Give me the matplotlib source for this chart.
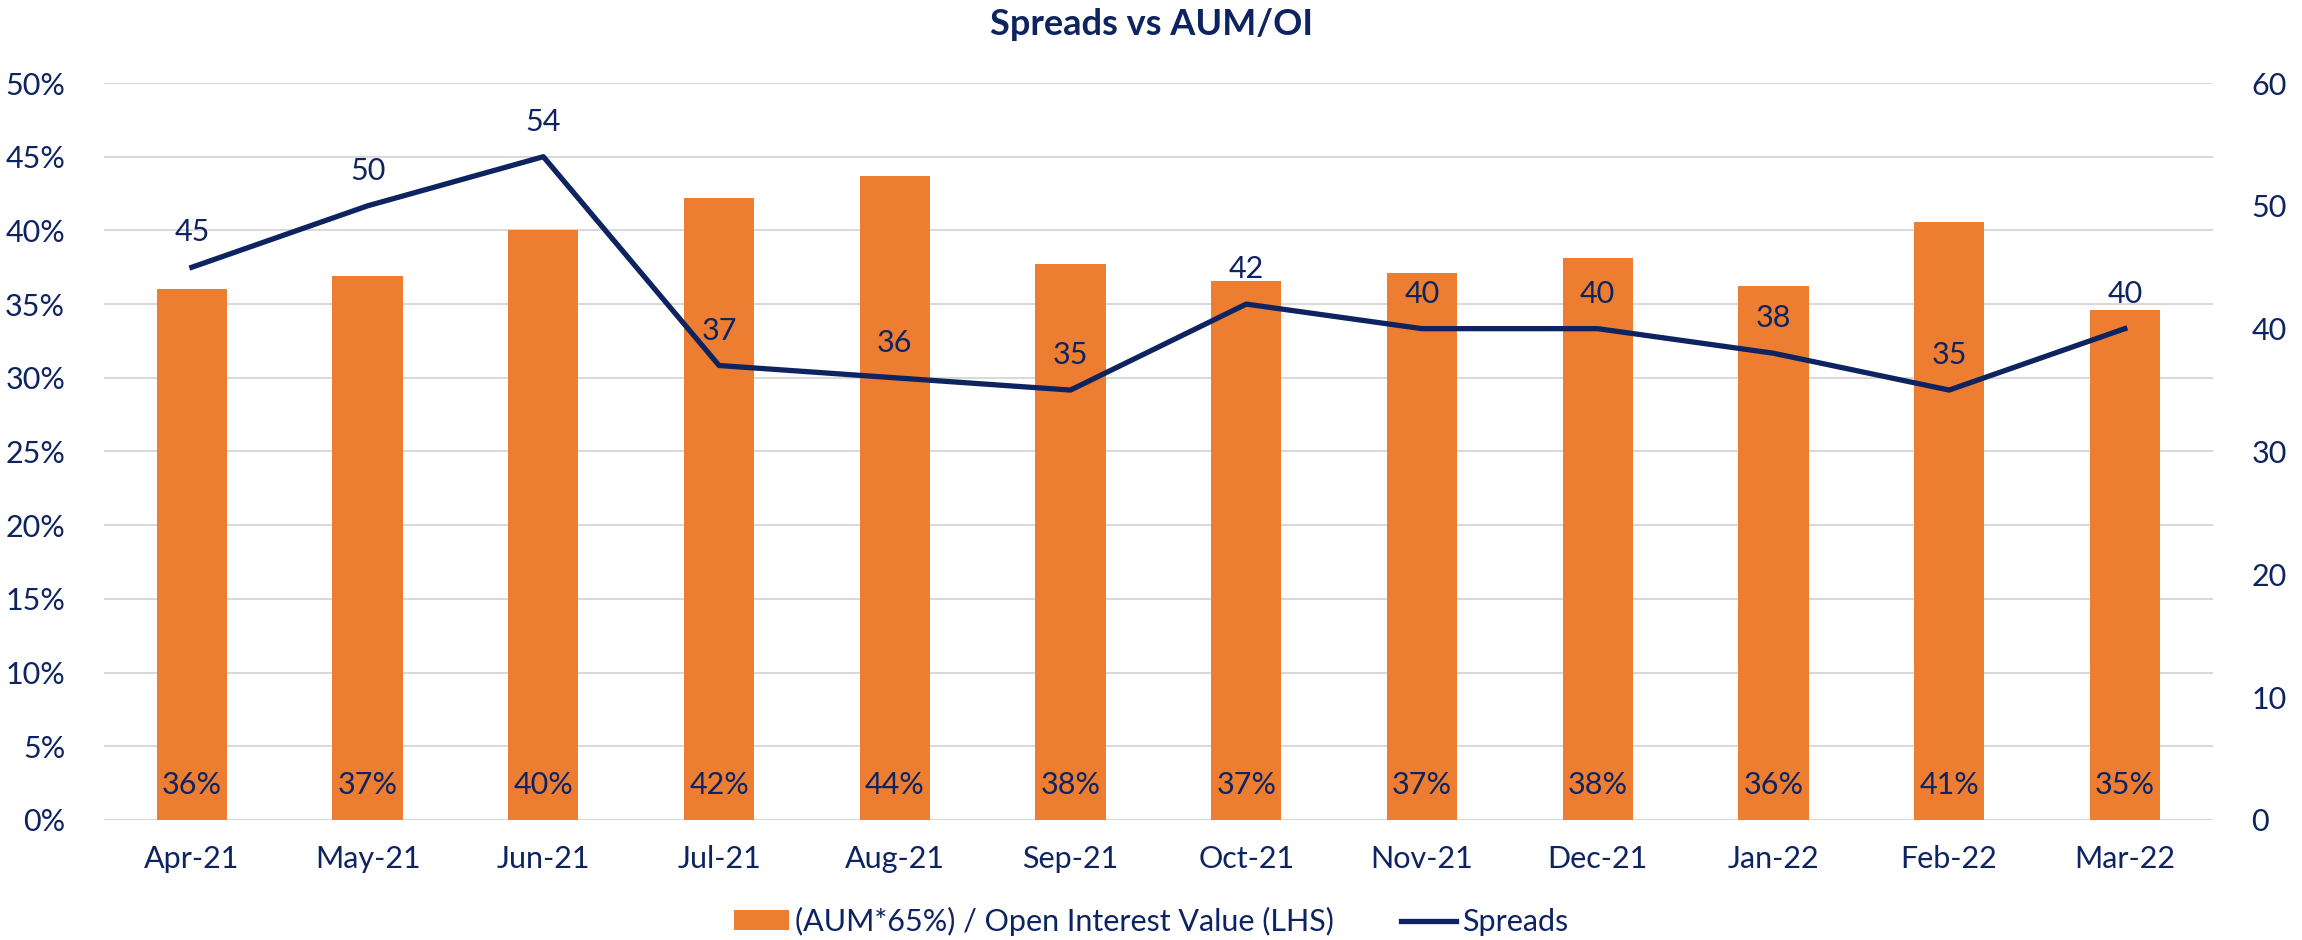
import numpy as np
import matplotlib.pyplot as plt
from matplotlib.ticker import PercentFormatter

months = ['Apr-21', 'May-21', 'Jun-21', 'Jul-21', 'Aug-21', 'Sep-21',
          'Oct-21', 'Nov-21', 'Dec-21', 'Jan-22', 'Feb-22', 'Mar-22']
aum_oi = [36.0, 36.9, 40.0, 42.2, 43.7, 37.7, 36.6, 37.1, 38.1, 36.2, 40.6, 34.6]
spreads = [45, 50, 54, 37, 36, 35, 42, 40, 40, 38, 35, 40]

navy = '#0E2461'
orange = '#ED7D31'
plt.rcParams['font.family'] = ['Lato', 'DejaVu Sans']

fig = plt.figure(figsize=(23.02, 9.4), dpi=100)
ax = fig.add_axes([0.0452, 0.1277, 0.916, 0.784])
x = np.arange(len(months))

bars = ax.bar(x, aum_oi, width=0.4, color=orange, zorder=2,
              label='(AUM*65%) / Open Interest Value (LHS)')
ax.set_ylim(0, 50)
ax.set_xlim(-0.5, len(months) - 0.5)
ax.set_yticks(np.arange(0, 51, 5))
ax.yaxis.set_major_formatter(PercentFormatter(decimals=0))
ax.grid(axis='y', color='#D9D9D9', linewidth=1.5, zorder=0)
ax.set_axisbelow(True)
ax.set_xticks(x)
ax.set_xticklabels(months)
ax.tick_params(axis='both', length=0, labelsize=22, labelcolor=navy)
ax.tick_params(axis='y', pad=28)
ax.tick_params(axis='x', pad=18)
for s in ax.spines.values():
    s.set_visible(False)

for bar, v in zip(bars, aum_oi):
    ax.text(bar.get_x() + bar.get_width() / 2, 2.4, f'{round(v):.0f}%',
            ha='center', va='center', fontsize=22, color=navy, zorder=3)

ax2 = ax.twinx()
line, = ax2.plot(x, spreads, color=navy, linewidth=3.8, zorder=4, label='Spreads')
ax2.set_ylim(0, 60)
ax2.set_yticks(np.arange(0, 61, 10))
ax2.tick_params(axis='y', length=0, labelsize=22, labelcolor=navy, pad=28)
for s in ax2.spines.values():
    s.set_visible(False)

for xi, v in zip(x, spreads):
    ax2.annotate(str(v), (xi, v), xytext=(0, 15), textcoords='offset points',
                 ha='center', va='bottom', fontsize=22, color=navy)

fig.text(0.5, 0.974, 'Spreads vs AUM/OI', fontsize=26, fontweight='bold',
         color=navy, ha='center', va='center')

handles = [bars, line]
leg = fig.legend(handles, [h.get_label() for h in handles], loc='center',
                 bbox_to_anchor=(0.5, 0.02), ncol=2, frameon=False, fontsize=22,
                 handlelength=1.8, handleheight=0.6, columnspacing=2.2,
                 handletextpad=0.2)
for t in leg.get_texts():
    t.set_color(navy)

fig.savefig('out.png', dpi=100)
